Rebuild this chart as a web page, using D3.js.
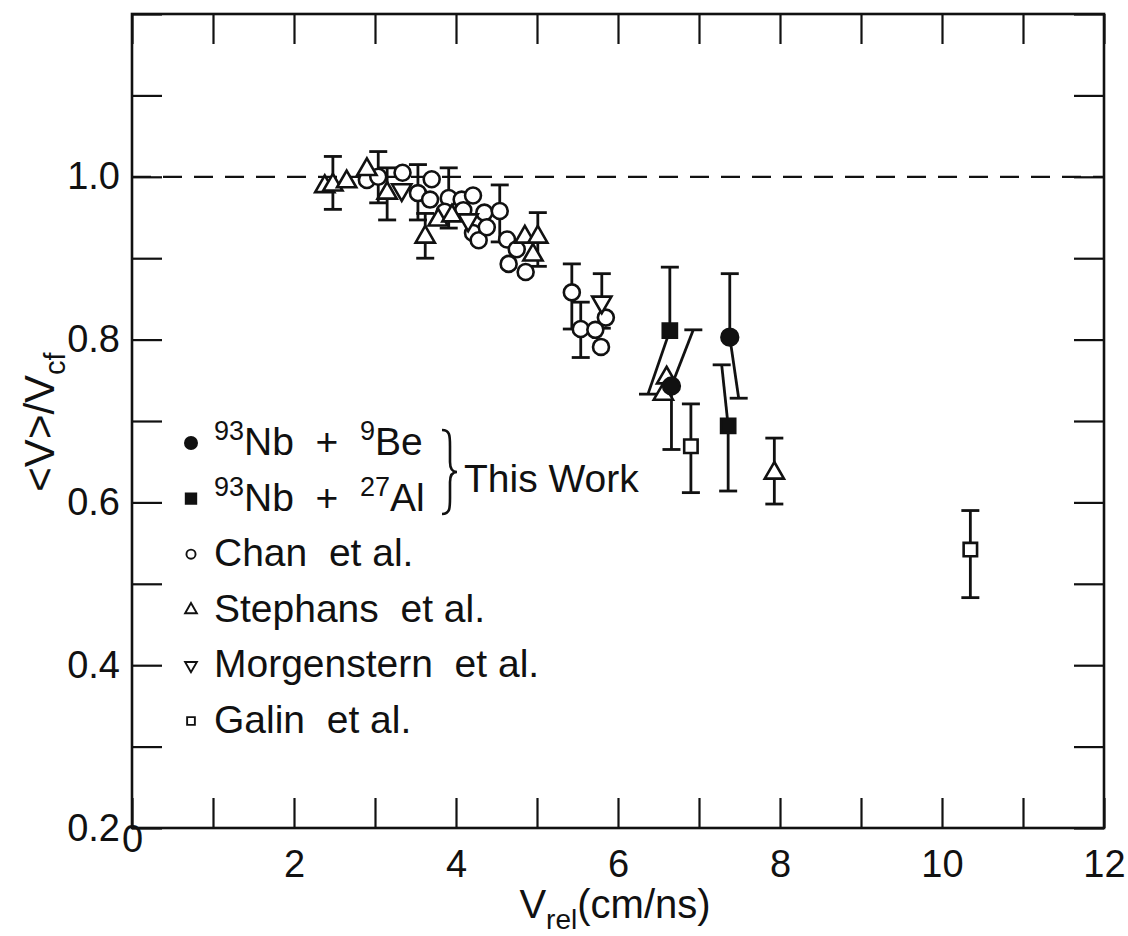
<!DOCTYPE html>
<html>
<head>
<meta charset="UTF-8">
<style>
body { margin: 0; padding: 0; background: #fff; }
svg { display: block; font-family: "Liberation Sans", Arial, Helvetica, sans-serif; }
text { fill: #111; }
</style>
</head>
<body>
<svg></svg>
<script src="https://d3js.org/d3.v7.min.js"></script>
<script>
const width = 1128, height = 936;

// [v_rel, <V>/Vcf, low, high]  (no low/high = no error bar drawn)
const chan = [
  [2.90, 0.996], [3.04, 1.000, 0.968, 1.031], [3.34, 1.005], [3.53, 0.980, 0.947, 1.015],
  [3.70, 0.997], [3.68, 0.972], [3.91, 0.974, 0.937, 1.011], [3.86, 0.957],
  [4.07, 0.972], [4.21, 0.977], [4.09, 0.959], [4.21, 0.931], [4.28, 0.922],
  [4.35, 0.956], [4.38, 0.938], [4.54, 0.958, 0.920, 0.990], [4.63, 0.923],
  [4.75, 0.911], [4.65, 0.893], [4.86, 0.883], [5.43, 0.858, 0.813, 0.893],
  [5.54, 0.813, 0.778, 0.846], [5.72, 0.812], [5.85, 0.827], [5.79, 0.791]
];
const stephans = [
  [2.38, 0.988], [2.48, 0.990, 0.960, 1.025], [2.65, 0.994], [2.90, 1.009],
  [3.15, 0.980, 0.947, 1.011], [3.62, 0.926, 0.900, 0.955], [3.78, 0.947],
  [3.95, 0.952], [4.85, 0.926], [4.95, 0.904], [5.01, 0.926, 0.890, 0.956],
  [6.60, 0.753], [6.56, 0.733], [7.93, 0.636, 0.598, 0.679]
];
const morgenstern = [
  [3.33, 0.984], [4.15, 0.947], [5.80, 0.846, 0.814, 0.881]
];
const galin = [
  [6.90, 0.669, 0.612, 0.721], [10.35, 0.542, 0.483, 0.590]
];
// this work: [v_rel, ratio, low, high, x of low end, x of high end]
const nbBe = [
  [6.66, 0.743, 0.665, 0.812, 6.66, 6.93],
  [7.38, 0.803, 0.728, 0.881, 7.49, 7.38]
];
const nbAl = [
  [6.64, 0.811, 0.733, 0.889, 6.37, 6.64],
  [7.36, 0.694, 0.614, 0.769, 7.36, 7.28]
];

const xLabels = ["0", "2", "4", "6", "8", "10", "12"];
const yLabels = ["0.2", "0.4", "0.6", "0.8", "1.0"];

const svg = d3.select("svg").attr("width", width).attr("height", height);

const x = d3.scaleLinear().domain([0, 12]).range([132, 1104]);
const y = d3.scaleLinear().domain([0.2, 1.2]).range([828, 14]);

const tickLen = 30;
const xTicks = d3.range(0, 13);
const yTicks = d3.range(2, 13).map(d => d / 10);

function styleAxis(g) {
  g.select(".domain").remove();
  g.selectAll(".tick line").attr("stroke", "#111").attr("stroke-width", 2.2);
  g.selectAll("text").attr("font-size", 38).attr("fill", "#111")
    .attr("font-family", "Liberation Sans, Arial, sans-serif");
}

svg.append("g").attr("transform", "translate(0,828)")
  .call(d3.axisBottom(x).tickValues(xTicks).tickSize(-tickLen).tickPadding(22)
    .tickFormat(d => xLabels.includes(String(d)) ? String(d) : ""))
  .call(styleAxis)
  .call(g => g.selectAll(".tick text").filter(d => d === 0).attr("dy", "0.05em"));

svg.append("g").attr("transform", "translate(0,14)")
  .call(d3.axisTop(x).tickValues(xTicks).tickSize(-tickLen).tickFormat(""))
  .call(styleAxis);

svg.append("g").attr("transform", "translate(132,0)")
  .call(d3.axisLeft(y).tickValues(yTicks).tickSize(-tickLen).tickPadding(12)
    .tickFormat(d => { const s = d3.format(".1f")(d); return yLabels.includes(s) ? s : ""; }))
  .call(styleAxis);

svg.append("g").attr("transform", "translate(1104,0)")
  .call(d3.axisRight(y).tickValues(yTicks).tickSize(-tickLen).tickFormat(""))
  .call(styleAxis);

// frame
svg.append("rect")
  .attr("x", x(0)).attr("y", y(1.2))
  .attr("width", x(12) - x(0)).attr("height", y(0.2) - y(1.2))
  .attr("fill", "none").attr("stroke", "#111").attr("stroke-width", 2.6);

// reference line at 1.0
svg.append("line")
  .attr("x1", x(0)).attr("x2", x(12)).attr("y1", y(1)).attr("y2", y(1))
  .attr("stroke", "#111").attr("stroke-width", 2.2).attr("stroke-dasharray", "19,12");

// axis titles
svg.append("text")
  .attr("x", 615).attr("y", 918).attr("text-anchor", "middle").attr("font-size", 40)
  .html('V<tspan font-size="28" dy="11">rel</tspan><tspan dy="-11">(cm/ns)</tspan>');

svg.append("text")
  .attr("transform", "translate(54,422) rotate(-90)")
  .attr("text-anchor", "middle").attr("font-size", 42)
  .html('&lt;V&gt;/V<tspan font-size="29" dy="11">cf</tspan>');

// error bars
const bars = svg.append("g").attr("stroke", "#111").attr("stroke-width", 2.8).attr("fill", "none");
const cap = 9;

function errBars(data) {
  data.filter(d => d[2] != null).forEach(d => {
    const loX = d[4] != null ? d[4] : d[0];
    const hiX = d[5] != null ? d[5] : d[0];
    [[loX, d[2]], [hiX, d[3]]].forEach(e => {
      bars.append("line")
        .attr("x1", x(d[0])).attr("y1", y(d[1]))
        .attr("x2", x(e[0])).attr("y2", y(e[1]));
      bars.append("line")
        .attr("x1", x(e[0]) - cap).attr("x2", x(e[0]) + cap)
        .attr("y1", y(e[1])).attr("y2", y(e[1]));
    });
  });
}
[chan, stephans, morgenstern, galin, nbBe, nbAl].forEach(errBars);

// markers
const marks = svg.append("g");
function drawMarks(data, type, size, filled, rot) {
  marks.selectAll(null)
    .data(data)
    .enter()
    .append("path")
    .attr("d", d3.symbol().type(type).size(size))
    .attr("transform", d => `translate(${x(d[0])},${y(d[1])}) rotate(${rot})`)
    .attr("fill", filled ? "#111" : "#fff")
    .attr("stroke", "#111")
    .attr("stroke-width", 2.6);
}
drawMarks(chan, d3.symbolCircle, 200, false, 0);
drawMarks(stephans, d3.symbolTriangle, 160, false, 0);
drawMarks(morgenstern, d3.symbolTriangle, 160, false, 180);
drawMarks(galin, d3.symbolSquare, 180, false, 0);
drawMarks(nbBe, d3.symbolCircle, 220, true, 0);
drawMarks(nbAl, d3.symbolSquare, 200, true, 0);

// legend
const legend = svg.append("g").attr("font-size", 39);
const legendRows = [
  { sym: d3.symbolCircle, fill: true, rot: 0, size: 115,
    html: '<tspan font-size="27" dy="-15">93</tspan><tspan dy="15">Nb  +  </tspan><tspan font-size="27" dy="-15">9</tspan><tspan dy="15">Be</tspan>' },
  { sym: d3.symbolSquare, fill: true, rot: 0, size: 110,
    html: '<tspan font-size="27" dy="-15">93</tspan><tspan dy="15">Nb  +  </tspan><tspan font-size="27" dy="-15">27</tspan><tspan dy="15">Al</tspan>' },
  { sym: d3.symbolCircle, fill: false, rot: 0, size: 65, html: "Chan  et al." },
  { sym: d3.symbolTriangle, fill: false, rot: 0, size: 60, html: "Stephans  et al." },
  { sym: d3.symbolTriangle, fill: false, rot: 180, size: 60, html: "Morgenstern  et al." },
  { sym: d3.symbolSquare, fill: false, rot: 0, size: 60, html: "Galin  et al." }
];
const rowY = d3.scalePoint().domain(d3.range(legendRows.length)).range([455, 733]);

legendRows.forEach((r, i) => {
  const by = rowY(i);
  legend.append("path")
    .attr("d", d3.symbol().type(r.sym).size(r.size))
    .attr("transform", `translate(191,${by - 12}) rotate(${r.rot})`)
    .attr("fill", r.fill ? "#111" : "#fff")
    .attr("stroke", "#111").attr("stroke-width", 1.9);
  legend.append("text")
    .attr("x", 214).attr("y", by)
    .attr("xml:space", "preserve").style("white-space", "pre")
    .html(r.html);
});

// brace + "This Work"
const bx = 442, bTop = 430, bBot = 514, bMid = (bTop + bBot) / 2;
legend.append("path")
  .attr("d", `M${bx},${bTop} C${bx + 8},${bTop} ${bx + 8},${bTop + 6} ${bx + 8},${bTop + 16}
              L${bx + 8},${bMid - 10} C${bx + 8},${bMid - 3} ${bx + 11},${bMid} ${bx + 15},${bMid}
              C${bx + 11},${bMid} ${bx + 8},${bMid + 3} ${bx + 8},${bMid + 10}
              L${bx + 8},${bBot - 16} C${bx + 8},${bBot - 6} ${bx + 8},${bBot} ${bx},${bBot}`)
  .attr("fill", "none").attr("stroke", "#111").attr("stroke-width", 2.6);
legend.append("text").attr("x", 464).attr("y", 492).text("This Work");
</script>
</body>
</html>
